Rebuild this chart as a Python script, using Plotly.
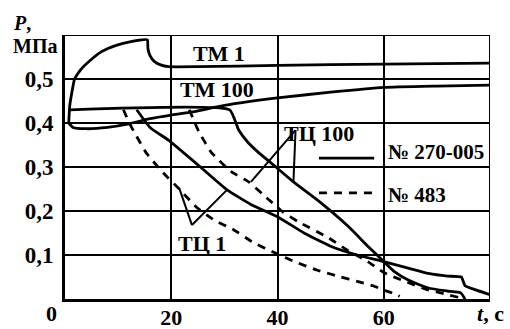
import plotly.graph_objects as go

# ---- data (t, s ; P, MPa) ----
tm1_t = [0.7, 0.9, 1.3, 1.8, 3.0, 5.0, 7.0, 9.5, 12.0, 15.5, 15.6, 16.0, 16.8, 18.0, 19.5, 25, 40, 60, 80]
tm1_p = [0.40, 0.44, 0.47, 0.50, 0.522, 0.545, 0.563, 0.576, 0.584, 0.589, 0.57, 0.553, 0.54, 0.532, 0.528, 0.528, 0.531, 0.534, 0.536]

tm100_t = [0.7, 1.5, 4, 8, 12, 16, 20, 23.5, 30, 40, 50, 60, 70, 80]
tm100_p = [0.40, 0.39, 0.387, 0.39, 0.398, 0.41, 0.418, 0.424, 0.44, 0.457, 0.47, 0.481, 0.484, 0.486]

tc100_sol_t = [1.0, 31.0, 32.7, 34.5, 36.5, 39.7, 43, 48, 53.4, 57, 60, 62, 64.6, 68.4, 72, 74.5, 75.3]
tc100_sol_p = [0.43, 0.43, 0.384, 0.355, 0.332, 0.30, 0.266, 0.22, 0.164, 0.12, 0.085, 0.062, 0.043, 0.025, 0.018, 0.014, 0.0]

tc1_sol_t = [13.5, 16, 19.6, 25, 30.5, 35, 40, 45, 50, 55, 60, 64.6, 68.4, 72, 74.6, 75.3, 77, 80]
tc1_sol_p = [0.43, 0.39, 0.36, 0.305, 0.248, 0.215, 0.187, 0.15, 0.12, 0.10, 0.085, 0.07, 0.058, 0.052, 0.05, 0.03, 0.022, 0.01]

tc100_dash_t = [23.4, 25.2, 27.5, 31.2, 34.6, 37.4, 41, 44, 49.5, 53, 57, 60, 64, 68, 72, 74]
tc100_dash_p = [0.43, 0.38, 0.334, 0.29, 0.266, 0.236, 0.198, 0.175, 0.14, 0.112, 0.085, 0.06, 0.04, 0.022, 0.01, 0.004]

tc1_dash_t = [11, 12.1, 13, 15.3, 18.3, 21.5, 24.7, 28, 31.8, 35.2, 39.5, 43.4, 47.4, 51.9, 55, 58, 60, 62, 63]
tc1_dash_p = [0.43, 0.40, 0.38, 0.332, 0.289, 0.25, 0.209, 0.18, 0.157, 0.13, 0.105, 0.084, 0.066, 0.05, 0.04, 0.03, 0.02, 0.012, 0.006]

y_ticks = [0.1, 0.2, 0.3, 0.4, 0.5]
y_ticklabels = ["0,1", "0,2", "0,3", "0,4", "0,5"]
x_ticks = [20, 40, 60]
x_ticklabels = ["20", "40", "60"]

FONT = "Liberation Serif"
LW = 2.8
DASH = "8px,7px"
TS = 22

fig = go.Figure()

def add(t, p, dash=None):
    fig.add_trace(go.Scatter(x=t, y=p, mode="lines",
                             line=dict(color="black", width=LW, dash=dash or "solid",
                                       shape="spline", smoothing=0.4),
                             showlegend=False, hoverinfo="skip"))

add(tm1_t, tm1_p)
add(tm100_t, tm100_p)
add(tc100_sol_t, tc100_sol_p)
add(tc1_sol_t, tc1_sol_p)
add(tc100_dash_t, tc100_dash_p, DASH)
add(tc1_dash_t, tc1_dash_p, DASH)

shapes = [
    dict(type="line", xref="x", yref="y", x0=0, x1=80, y0=0.6, y1=0.6, line=dict(color="black", width=2)),
    dict(type="line", xref="x", yref="y", x0=80, x1=80, y0=0, y1=0.6, line=dict(color="black", width=2)),
    dict(type="line", xref="x", yref="y", x0=47.8, x1=58.2, y0=0.32, y1=0.32, line=dict(color="black", width=LW)),
    dict(type="line", xref="x", yref="y", x0=47.8, x1=58.2, y0=0.241, y1=0.241, line=dict(color="black", width=LW, dash=DASH)),
    dict(type="line", xref="x", yref="y", x0=23.9, x1=21.5, y0=0.168, y1=0.252, line=dict(color="black", width=2)),
    dict(type="line", xref="x", yref="y", x0=23.9, x1=30.5, y0=0.168, y1=0.248, line=dict(color="black", width=2)),
    dict(type="line", xref="x", yref="y", x0=43.4, x1=35.0, y0=0.384, y1=0.266, line=dict(color="black", width=2)),
    dict(type="line", xref="x", yref="y", x0=43.4, x1=43.0, y0=0.384, y1=0.266, line=dict(color="black", width=2)),
]

def txt(x, y, s, xanchor="center", size=22, ref="data"):
    xr, yr = ("x", "y") if ref == "data" else ("paper", "paper")
    return dict(x=x, y=y, xref=xr, yref=yr, text=s, showarrow=False, xanchor=xanchor,
                yanchor="middle", font=dict(family=FONT, size=size, color="black"))

annotations = [
    txt(29, 0.559, "<b>ТМ 1</b>"),
    txt(28.6, 0.477, "<b>ТМ 100</b>"),
    txt(25.8, 0.127, "<b>ТЦ 1</b>"),
    txt(47.8, 0.377, "<b>ТЦ 100</b>"),
    txt(60.5, 0.334, "<b>№ 270-005</b>", "left", 21),
    txt(60.5, 0.236, "<b>№ 483</b>", "left", 21),
    txt(-0.128, 1.045, "<b><i>P</i>,</b>", "left", 20, "paper"),
    txt(-0.128, 0.958, "<b>МПа</b>", "left", 20, "paper"),
    txt(-0.031, -0.055, "<b>0</b>", "center", TS, "paper"),
    txt(1.0, -0.055, "<b><i>t</i>, c</b>", "center", TS, "paper"),
]

fig.update_layout(
    width=510, height=329,
    margin=dict(l=65, r=20, t=35, b=30),
    paper_bgcolor="white", plot_bgcolor="white",
    shapes=shapes, annotations=annotations,
    xaxis=dict(range=[0, 80], tickvals=x_ticks, ticktext=["<b>%s</b>" % s for s in x_ticklabels],
               showgrid=True, gridcolor="black", gridwidth=1.5, zeroline=False,
               showline=True, linecolor="black", linewidth=3, ticks="", automargin=False,
               ticklabelstandoff=-3,
               tickfont=dict(family=FONT, size=TS, color="black")),
    yaxis=dict(range=[0, 0.6], tickvals=y_ticks, ticktext=["<b>%s</b>" % s for s in y_ticklabels],
               showgrid=True, gridcolor="black", gridwidth=1.5, zeroline=False,
               showline=True, linecolor="black", linewidth=3, ticks="", automargin=False,
               ticklabelstandoff=4,
               tickfont=dict(family=FONT, size=23, color="black")),
)

fig.write_html("out.html", config={"displayModeBar": False},
               post_script="document.body.style.margin='0';document.body.style.overflow='hidden';")
